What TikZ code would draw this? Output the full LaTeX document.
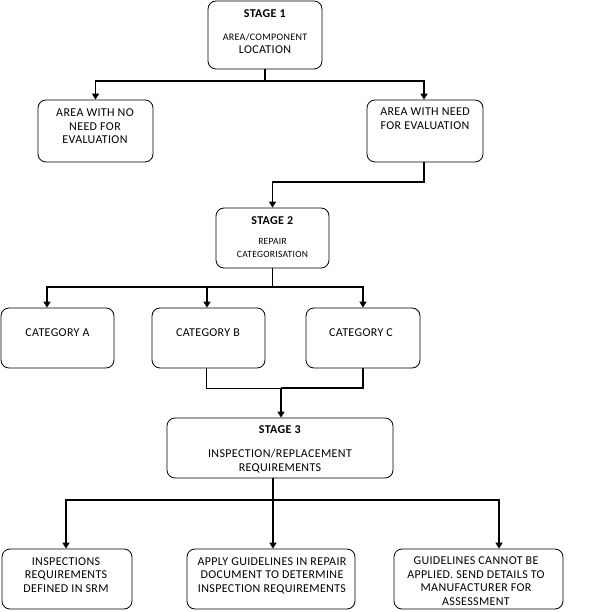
\documentclass[tikz,border=0pt]{standalone}
\usepackage{fontspec}
\setmainfont{Carlito}[LetterSpace=3]
\usetikzlibrary{arrows.meta}
\begin{document}
\begin{tikzpicture}[x=1pt,y=-1pt,
  box/.style={draw, line width=0.8pt, rounded corners=8pt, inner sep=0pt},
  lbl/.style={align=center, inner sep=0pt, font=\fontsize{12}{13.5}\selectfont, anchor=base},
  conn/.style={line width=1.6pt},
  thinconn/.style={line width=0.8pt},
  arr/.style={conn, -{Triangle[width=7pt,length=6pt]}}]
\useasboundingbox (0,0) rectangle (613,612);

% boxes
\node[box, minimum width=114pt, minimum height=68pt] (s1) at (265,35) {};
\node[box, minimum width=115pt, minimum height=62pt] (an) at (95.5,131) {};
\node[box, minimum width=116pt, minimum height=62pt] (ad) at (425,131) {};
\node[box, minimum width=113pt, minimum height=60pt] (s2) at (272.5,238) {};
\node[box, minimum width=113pt, minimum height=60pt] (cA) at (57.5,338) {};
\node[box, minimum width=113pt, minimum height=60pt] (cB) at (208.5,338) {};
\node[box, minimum width=114pt, minimum height=60pt] (cC) at (363,338) {};
\node[box, minimum width=226pt, minimum height=60pt] (s3) at (280,448) {};
\node[box, minimum width=130pt, minimum height=60pt] (bL) at (67,579) {};
\node[box, minimum width=168pt, minimum height=60pt] (bM) at (271,579) {};
\node[box, minimum width=169pt, minimum height=60pt] (bR) at (478.5,579) {};

% texts (anchor=base sits on the last line's baseline)
\node[lbl] (s1t) at (265,54) {\textbf{STAGE 1}\\[9.5pt]{\fontsize{10}{12}\selectfont AREA/COMPONENT}\\LOCATION};
\node[lbl] (ant) at (95,144) {AREA WITH NO\\NEED FOR\\EVALUATION};
\node[lbl] (adt) at (425,129.5) {AREA WITH NEED\\FOR EVALUATION};
\node[lbl] (s2t) at (272.5,258) {\textbf{STAGE 2}\\[6.5pt]{\fontsize{9.5}{11.5}\selectfont REPAIR}\\{\fontsize{9.5}{11.5}\selectfont CATEGORISATION}};
\node[lbl] (cAt) at (57.5,337) {CATEGORY A};
\node[lbl] (cBt) at (208,336) {CATEGORY B};
\node[lbl] (cCt) at (361,336) {CATEGORY C};
\node[lbl] (s3t) at (280,471) {\textbf{STAGE 3}\\[10.5pt]INSPECTION/REPLACEMENT\\REQUIREMENTS};
\node[lbl] (bLt) at (66,592) {INSPECTIONS\\REQUIREMENTS\\DEFINED IN SRM};
\node[lbl] (bMt) at (272,592) {APPLY GUIDELINES IN REPAIR\\DOCUMENT TO DETERMINE\\INSPECTION REQUIREMENTS};
\node[lbl] (bRt) at (476,605) {GUIDELINES CANNOT BE\\APPLIED. SEND DETAILS TO\\MANUFACTURER FOR\\ASSESSMENT};

% junctions
\coordinate (j1) at (265,81);
\coordinate (j2) at (272.5,182);
\coordinate (j3) at (272.5,287);
\coordinate (j4) at (281,388);
\coordinate (j5) at (273,500);

% connectors
\draw[conn] (s1.south) -- (j1);
\draw[arr] (j1) -| (an.north);
\draw[arr] (j1) -| ([xshift=-1pt]ad.north);
\draw[arr] ([xshift=-1pt]ad.south) |- (j2) -- (s2.north);
\draw[conn] (s2.south) -- (j3);
\draw[arr] (j3) -| ([xshift=-10.5pt]cA.north);
\draw[arr] (j3) -| ([xshift=-1.5pt]cB.north);
\draw[arr] (j3) -| (cC.north);
\draw[thinconn] ([xshift=-2pt]cB.south) |- (j4);
\draw[conn] (cC.south) |- (j4);
\draw[arr] (j4) -- (j4 |- s3.north);
\draw[conn] (j5 |- s3.south) -- (j5);
\draw[arr] (j5) -| ([xshift=-1pt]bL.north);
\draw[arr] (j5) -- (j5 |- bM.north);
\draw[arr] (j5) -| ([xshift=20.5pt]bR.north);
\end{tikzpicture}
\end{document}
